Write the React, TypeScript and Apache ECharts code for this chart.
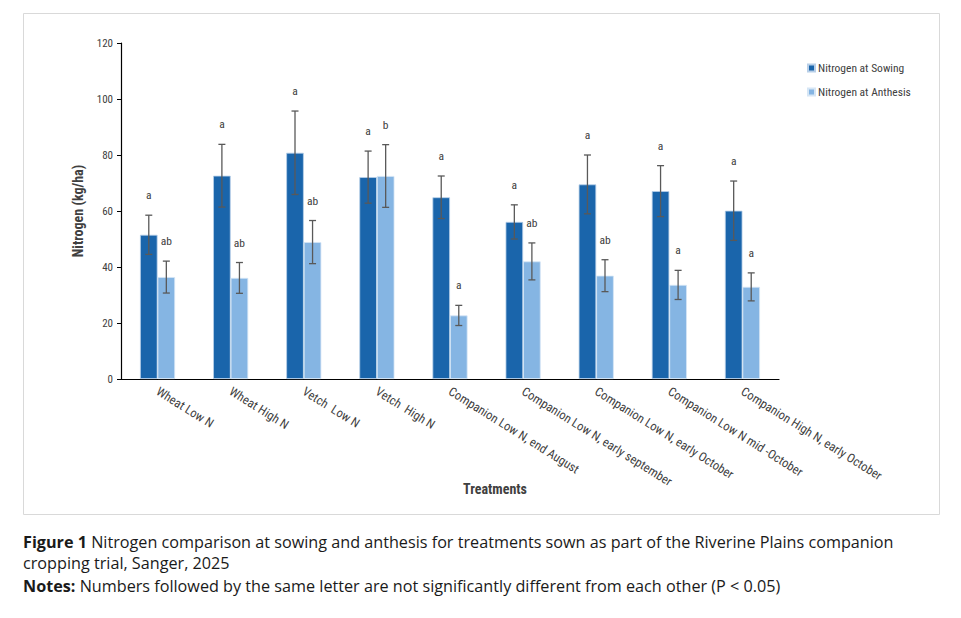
import React, { useEffect, useRef } from "react";
import * as echarts from "echarts";

const categories = [
  "Wheat Low N",
  "Wheat High N",
  "Vetch  Low N",
  "Vetch  High N",
  "Companion Low N, end August",
  "Companion Low N, early september",
  "Companion Low N, early October",
  "Companion Low N mid -October",
  "Companion High N, early October",
];
const sowing = [51.5, 72.6, 80.8, 72.1, 64.9, 56.1, 69.5, 67.1, 60.1];
const sowingErr = [7.0, 11.2, 14.9, 9.3, 7.6, 6.1, 10.5, 9.1, 10.6];
const sowingLetters = ["a", "a", "a", "a", "a", "a", "a", "a", "a"];
const anthesis = [36.4, 36.1, 48.9, 72.5, 22.7, 42.0, 36.9, 33.6, 32.9];
const anthesisErr = [5.7, 5.5, 7.7, 11.2, 3.6, 6.6, 5.7, 5.2, 5.0];
const anthesisLetters = ["ab", "ab", "ab", "b", "a", "ab", "ab", "a", "a"];
const yTicks = { min: 0, max: 120, interval: 20 };

const FONT = "'Liberation Sans Narrow', 'Roboto Condensed', 'Liberation Sans', sans-serif";
const CAP_FONT = "'Open Sans', 'Noto Sans', sans-serif";
const CAP_SIZE = 16.2;
const BAR_FRAC = 0.24;

function errorSeries(name: string, values: number[], errs: number[], letters: string[], side: number) {
  return {
    type: "custom",
    name: name + " err",
    silent: true,
    z: 5,
    data: values.map((v, i) => [i, v, errs[i], letters[i]]),
    renderItem: (params: any, api: any) => {
      const i = api.value(0);
      const v = api.value(1);
      const e = api.value(2);
      const band = api.size([1, 0])[0];
      const off = (side * band * BAR_FRAC) / 2;
      const top = api.coord([i, v + e]);
      const bot = api.coord([i, v - e]);
      const x = top[0] + off;
      const cap = 3.5;
      const stroke = { stroke: "#595959", lineWidth: 1.3 };
      return {
        type: "group",
        children: [
          { type: "line", shape: { x1: x, y1: top[1], x2: x, y2: bot[1] }, style: stroke },
          { type: "line", shape: { x1: x - cap, y1: top[1], x2: x + cap, y2: top[1] }, style: stroke },
          { type: "line", shape: { x1: x - cap, y1: bot[1], x2: x + cap, y2: bot[1] }, style: stroke },
          {
            type: "text",
            x: x,
            y: top[1] - 20,
            style: {
              text: letters[i],
              fill: "#404040",
              font: "11.5px " + FONT,
              align: "center",
              verticalAlign: "middle",
            },
          },
        ],
      };
    },
  };
}

export default function App() {
  const ref = useRef<HTMLDivElement>(null);
  useEffect(() => {
    if (!ref.current) return;
    const chart = echarts.init(ref.current, null, { renderer: "svg" });
    const capStyle = (text: string) => ({
      text,
      font: CAP_SIZE + "px " + CAP_FONT,
      fill: "#1a1a1a",
      verticalAlign: "middle",
      rich: {
        b: { fontWeight: "bold", fontSize: CAP_SIZE, fontFamily: "Open Sans", fill: "#1a1a1a" },
      },
    });
    chart.setOption({
      animation: false,
      backgroundColor: "#ffffff",
      grid: { left: 121, right: 182, top: 43, bottom: 239, containLabel: false },
      legend: {
        orient: "vertical",
        left: 802,
        top: 57,
        itemWidth: 7,
        itemHeight: 7,
        itemGap: 12,
        icon: "rect",
        data: ["Nitrogen at Sowing", "Nitrogen at Anthesis"],
        textStyle: { fontFamily: FONT, fontSize: 11.5, color: "#404040", padding: [0, 0, 0, -2] },
      },
      xAxis: {
        type: "category",
        data: categories,
        axisLine: { lineStyle: { color: "#000000", width: 1.2 } },
        axisTick: { show: false },
        axisLabel: {
          rotate: -32,
          interval: 0,
          margin: 11,
          fontFamily: FONT,
          fontSize: 12.5,
          color: "#404040",
        },
      },
      yAxis: {
        type: "value",
        min: yTicks.min,
        max: yTicks.max,
        interval: yTicks.interval,
        name: "Nitrogen (kg/ha)",
        nameLocation: "middle",
        nameGap: 36,
        nameTextStyle: { fontFamily: FONT, fontSize: 14, fontWeight: "bold", color: "#404040" },
        axisLine: { show: true, lineStyle: { color: "#000000", width: 1.2 } },
        axisTick: { show: true, length: 4, lineStyle: { color: "#000000" } },
        splitLine: { show: false },
        axisLabel: { fontFamily: FONT, fontSize: 11, color: "#404040", margin: 8 },
      },
      series: [
        {
          type: "bar",
          name: "Nitrogen at Sowing",
          data: sowing,
          barWidth: BAR_FRAC * 100 + "%",
          barGap: "0%",
          itemStyle: { color: "#1a65ab", borderColor: "#b8cfe8", borderWidth: 0.8 },
        },
        {
          type: "bar",
          name: "Nitrogen at Anthesis",
          data: anthesis,
          barWidth: BAR_FRAC * 100 + "%",
          barGap: "0%",
          itemStyle: { color: "#85b5e3", borderColor: "#d6e6f5", borderWidth: 0.8 },
        },
        errorSeries("Nitrogen at Sowing", sowing, sowingErr, sowingLetters, -1),
        errorSeries("Nitrogen at Anthesis", anthesis, anthesisErr, anthesisLetters, 1),
      ],
      graphic: [
        {
          type: "rect",
          shape: { x: 23.5, y: 13.5, width: 916, height: 501 },
          style: { fill: "none", stroke: "#d9d9d9", lineWidth: 1 },
          z: -1,
        },
        {
          type: "text",
          x: 495,
          y: 489,
          style: {
            text: "Treatments",
            font: "bold 14px " + FONT,
            fill: "#404040",
            align: "center",
            verticalAlign: "middle",
          },
        },
        {
          type: "text",
          x: 23,
          y: 541.5,
          style: capStyle(
            "{b|Figure 1} Nitrogen comparison at sowing and anthesis for treatments sown as part of the Riverine Plains companion"
          ),
        },
        {
          type: "text",
          x: 23,
          y: 563,
          style: capStyle("cropping trial, Sanger, 2025"),
        },
        {
          type: "text",
          x: 23,
          y: 586,
          style: capStyle(
            "{b|Notes:} Numbers followed by the same letter are not significantly different from each other (P < 0.05)"
          ),
        },
      ],
    });
    return () => chart.dispose();
  }, []);
  return (
    <div
      ref={ref}
      style={{ position: "absolute", left: 0, top: 0, width: 961, height: 618 }}
    />
  );
}
